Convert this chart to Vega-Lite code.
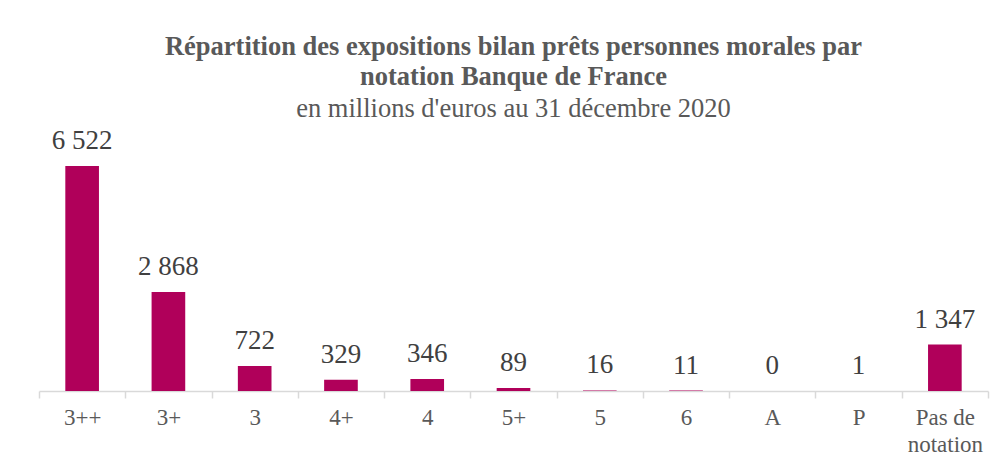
{
  "$schema": "https://vega.github.io/schema/vega-lite/v6.json",
  "autosize": {"type": "none"},
  "width": 949,
  "height": 241.5,
  "padding": {"left": 39, "top": 149.5, "right": 20, "bottom": 82},
  "background": "#ffffff",
  "title": {
    "text": ["Répartition des expositions bilan prêts personnes morales par", "notation Banque de France"],
    "subtitle": "en millions d'euros au 31 décembre 2020",
    "anchor": "middle",
    "font": "Liberation Serif",
    "fontSize": 26.5,
    "fontWeight": "bold",
    "color": "#595959",
    "lineHeight": 30,
    "subtitleFont": "Liberation Serif",
    "subtitleFontSize": 26.5,
    "subtitleColor": "#595959",
    "subtitlePadding": 6,
    "offset": 4
  },
  "data": {
    "values": [
      {"notation": "3++", "valeur": 6522},
      {"notation": "3+", "valeur": 2868},
      {"notation": "3", "valeur": 722},
      {"notation": "4+", "valeur": 329},
      {"notation": "4", "valeur": 346},
      {"notation": "5+", "valeur": 89},
      {"notation": "5", "valeur": 16},
      {"notation": "6", "valeur": 11},
      {"notation": "A", "valeur": 0},
      {"notation": "P", "valeur": 1},
      {"notation": "Pas de\nnotation", "valeur": 1347}
    ]
  },
  "encoding": {
    "x": {
      "field": "notation",
      "type": "nominal",
      "sort": null,
      "scale": {"paddingInner": 0, "paddingOuter": 0},
      "axis": {
        "title": null,
        "labelAngle": 0,
        "labelFont": "Liberation Serif",
        "labelFontSize": 23,
        "labelColor": "#595959",
        "labelBaseline": "top",
        "labelPadding": 8,
        "labelLineHeight": 27,
        "labelExpr": "split(datum.label, '\\n')",
        "tickBand": "extent",
        "tickSize": 7,
        "tickColor": "#d9d9d9",
        "tickWidth": 1.5,
        "domainColor": "#d9d9d9",
        "domainWidth": 1.5,
        "grid": false
      }
    },
    "y": {
      "field": "valeur",
      "type": "quantitative",
      "scale": {"domain": [0, 7000], "nice": false},
      "axis": null
    }
  },
  "layer": [
    {
      "mark": {"type": "bar", "color": "#B0005A", "width": {"band": 0.39}}
    },
    {
      "mark": {
        "type": "text",
        "baseline": "alphabetic",
        "dy": -17,
        "font": "Liberation Serif",
        "fontSize": 27,
        "color": "#404040"
      },
      "encoding": {
        "text": {"field": "valeur", "type": "quantitative", "format": ",d"}
      }
    }
  ],
  "config": {
    "view": {"stroke": null},
    "locale": {
      "number": {
        "decimal": ",",
        "thousands": " ",
        "grouping": [3],
        "currency": ["", " €"]
      }
    }
  }
}
